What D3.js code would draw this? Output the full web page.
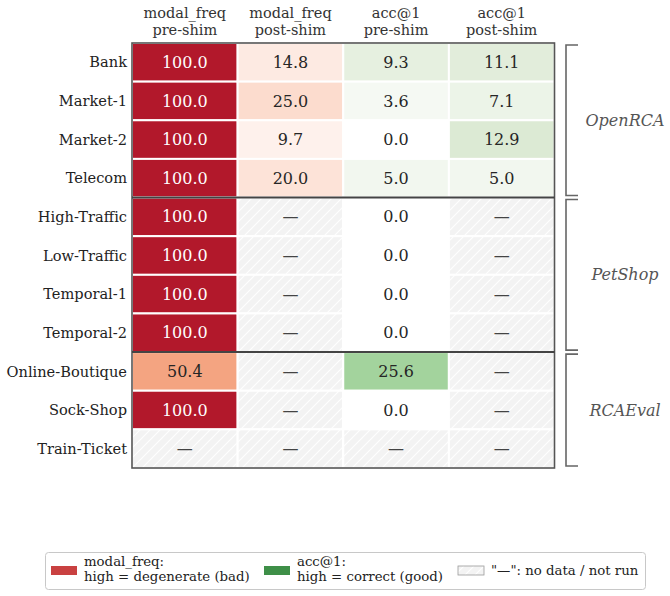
<!DOCTYPE html>
<html lang="en">
<head>
<meta charset="utf-8">
<style>
  body { margin: 0; background: #fff; }
  text { font-family: "DejaVu Serif", serif; }
</style>
</head>
<body>
<svg width="670" height="596"></svg>
<script src="https://cdnjs.cloudflare.com/ajax/libs/d3/7.8.5/d3.min.js"></script>
<script>
// data
var rows = ["Bank", "Market-1", "Market-2", "Telecom",
            "High-Traffic", "Low-Traffic", "Temporal-1", "Temporal-2",
            "Online-Boutique", "Sock-Shop", "Train-Ticket"];
var groups = [
  {name: "OpenRCA", first: "Bank", last: "Telecom"},
  {name: "PetShop", first: "High-Traffic", last: "Temporal-2"},
  {name: "RCAEval", first: "Online-Boutique", last: "Train-Ticket"}
];
var columns = ["modal_freq\npre-shim", "modal_freq\npost-shim", "acc@1\npre-shim", "acc@1\npost-shim"];
var modalPre  = [100.0, 100.0, 100.0, 100.0, 100.0, 100.0, 100.0, 100.0, 50.4, 100.0, null];
var modalPost = [14.8, 25.0, 9.7, 20.0, null, null, null, null, null, null, null];
var accPre    = [9.3, 3.6, 0.0, 5.0, 0.0, 0.0, 0.0, 0.0, 25.6, 0.0, null];
var accPost   = [11.1, 7.1, 12.9, 5.0, null, null, null, null, null, null, null];

var series = [
  {values: modalPre, kind: "modal"},
  {values: modalPost, kind: "modal"},
  {values: accPre, kind: "acc"},
  {values: accPost, kind: "acc"}
];

var svg = d3.select("svg");

var x = d3.scaleBand().domain(columns).range([132, 554.5]);
var y = d3.scaleBand().domain(rows).range([43, 468]);

var red = d3.scaleLinear()
    .domain([0, 25, 50, 75, 100])
    .range(["#ffffff", "#fcdcce", "#f4a582", "#d6604d", "#b2182b"]);
var green = d3.scaleLinear()
    .domain([0, 12.5, 25.6, 50])
    .range(["#ffffff", "#deebd6", "#a3d39d", "#5aae61"]);

// hatch pattern for missing cells
var defs = svg.append("defs");
var pat = defs.append("pattern")
    .attr("id", "hatch")
    .attr("patternUnits", "userSpaceOnUse")
    .attr("width", 10).attr("height", 10);
pat.append("rect").attr("width", 10).attr("height", 10).attr("fill", "#f3f3f3");
pat.append("path")
    .attr("d", "M-1,1 l2,-2 M0,10 l10,-10 M9,11 l2,-2")
    .attr("stroke", "#ffffff").attr("stroke-width", 1.2);

var cells = [];
series.forEach(function(s, ci) {
  rows.forEach(function(r, ri) {
    cells.push({row: r, col: columns[ci], v: s.values[ri], kind: s.kind});
  });
});

var g = svg.append("g");
g.selectAll("rect.cell")
  .data(cells)
  .enter().append("rect")
    .attr("class", "cell")
    .attr("x", function(d) { return x(d.col); })
    .attr("y", function(d) { return y(d.row); })
    .attr("width", x.bandwidth())
    .attr("height", y.bandwidth())
    .attr("fill", function(d) {
      if (d.v === null) return "url(#hatch)";
      return d.kind === "modal" ? red(d.v) : green(d.v);
    })
    .attr("stroke", "#ffffff")
    .attr("stroke-width", 2);

g.selectAll("text.val")
  .data(cells)
  .enter().append("text")
    .attr("class", "val")
    .attr("x", function(d) { return x(d.col) + x.bandwidth() / 2; })
    .attr("y", function(d) { return y(d.row) + y.bandwidth() / 2; })
    .attr("dy", "0.35em")
    .attr("text-anchor", "middle")
    .attr("font-size", 16)
    .attr("fill", function(d) {
      if (d.v === null) return "#444";
      return (d.kind === "modal" && d.v > 60) ? "#ffffff" : "#262626";
    })
    .text(function(d) { return d.v === null ? "\u2014" : d.v.toFixed(1); });

// outer border and group separators
svg.append("rect")
    .attr("x", x.range()[0]).attr("y", y.range()[0])
    .attr("width", x.range()[1] - x.range()[0])
    .attr("height", y.range()[1] - y.range()[0])
    .attr("fill", "none").attr("stroke", "#555").attr("stroke-width", 1.6);

groups.slice(1).forEach(function(gr) {
  svg.append("line")
    .attr("x1", x.range()[0]).attr("x2", x.range()[1])
    .attr("y1", y(gr.first)).attr("y2", y(gr.first))
    .attr("stroke", "#444").attr("stroke-width", 2);
});

// row labels
svg.selectAll("text.rowlab")
  .data(rows)
  .enter().append("text")
    .attr("class", "rowlab")
    .attr("x", 127)
    .attr("y", function(d) { return y(d) + y.bandwidth() / 2; })
    .attr("dy", "0.35em")
    .attr("text-anchor", "end")
    .attr("font-size", 14.6)
    .attr("fill", "#222")
    .text(function(d) { return d; });

// column headers
var heads = svg.selectAll("text.colhead")
  .data(columns)
  .enter().append("text")
    .attr("class", "colhead")
    .attr("text-anchor", "middle")
    .attr("font-size", 14.5)
    .attr("fill", "#333");
heads.selectAll("tspan")
  .data(function(d) { return d.split("\n").map(function(t) { return {t: t, c: d}; }); })
  .enter().append("tspan")
    .attr("x", function(d) { return x(d.c) + x.bandwidth() / 2; })
    .attr("y", function(d, i) { return 18 + i * 17; })
    .text(function(d) { return d.t; });

// group brackets
groups.forEach(function(gr) {
  var y0 = y(gr.first) + 2, y1 = y(gr.last) + y.bandwidth() - 2;
  svg.append("path")
    .attr("d", "M578," + y0 + " H566 V" + y1 + " H578")
    .attr("fill", "none").attr("stroke", "#666").attr("stroke-width", 1.6);
  svg.append("text")
    .attr("x", 625)
    .attr("y", (y0 + y1) / 2)
    .attr("dy", "0.35em")
    .attr("text-anchor", "middle")
    .attr("font-size", 16)
    .attr("font-style", "italic")
    .attr("fill", "#555")
    .text(gr.name);
});

// legend
var leg = svg.append("g");
leg.append("rect")
    .attr("x", 45.5).attr("y", 552.5).attr("width", 600).attr("height", 37)
    .attr("rx", 3).attr("fill", "#fff").attr("stroke", "#c8c8c8");
var legItems = [
  {x: 51, fill: "#c94141", lines: ["modal_freq:", "high = degenerate (bad)"]},
  {x: 264, fill: "#3e8f48", lines: ["acc@1:", "high = correct (good)"]},
  {x: 458, fill: "url(#hatch)", lines: ["\"\u2014\": no data / not run"]}
];
legItems.forEach(function(it) {
  leg.append("rect")
    .attr("x", it.x).attr("y", 566).attr("width", 26).attr("height", 9)
    .attr("fill", it.fill)
    .attr("stroke", it.fill === "url(#hatch)" ? "#999" : "none")
    .attr("stroke-width", 0.8);
  var t = leg.append("text").attr("font-size", 13.3).attr("fill", "#222");
  it.lines.forEach(function(l, i) {
    t.append("tspan")
      .attr("x", it.x + 33)
      .attr("y", it.lines.length === 1 ? 575 : 566 + i * 14.5)
      .text(l);
  });
});
</script>
</body>
</html>
